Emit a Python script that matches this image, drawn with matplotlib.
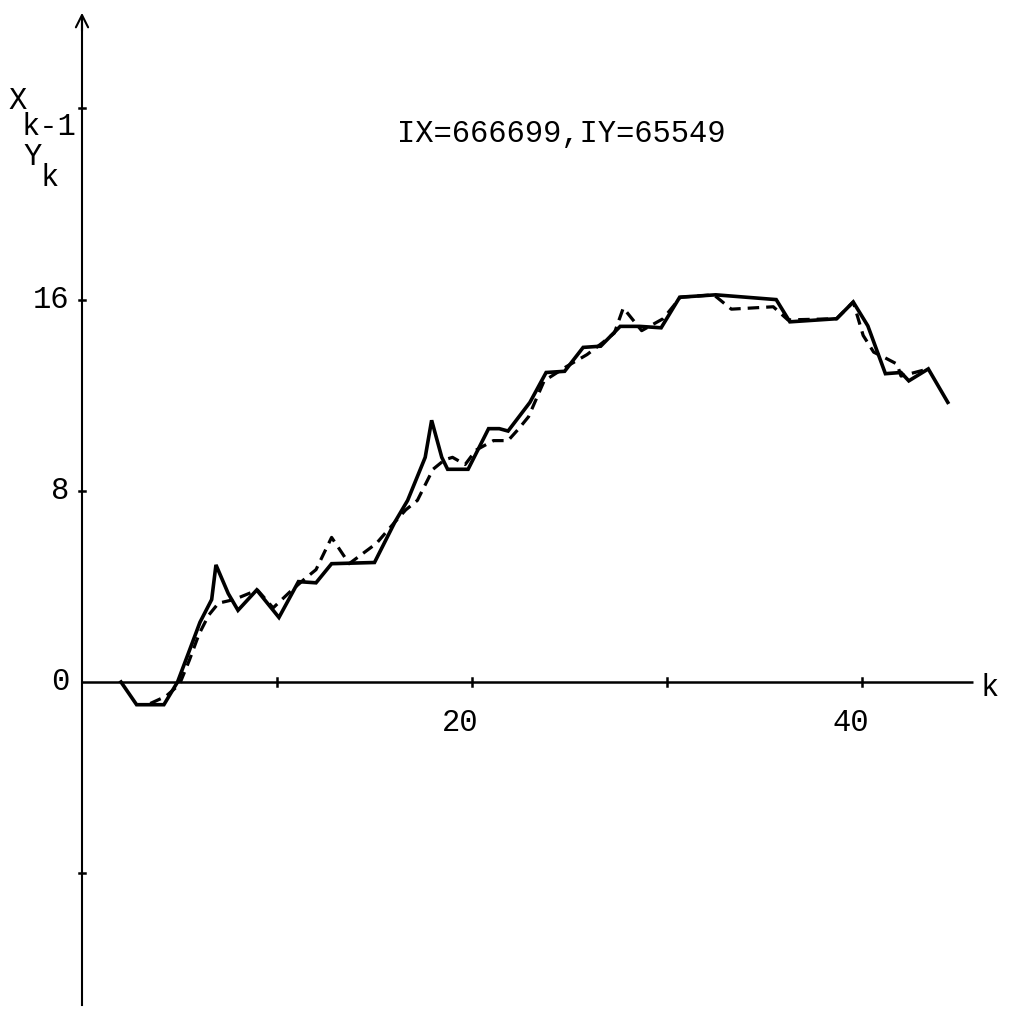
import matplotlib
matplotlib.use("Agg")
import matplotlib.pyplot as plt

# Solid curve: X_{k-1}
k_x = [2.0, 2.8, 4.2, 4.9, 5.5, 6.05, 6.65, 6.87, 7.5, 8.0, 8.96, 10.1, 11.1,
       12.0, 12.8, 15.0, 16.05, 16.7, 17.3, 17.6, 17.93, 18.45, 18.75, 19.8,
       20.85, 21.4, 21.85, 22.97, 23.8, 24.75, 25.7, 26.6, 27.6, 28.6, 29.7,
       30.65, 32.5, 35.6, 36.3, 38.7, 39.55, 40.3, 41.2, 42.0, 42.4, 43.4, 44.4]
x_vals = [0.0, -0.95, -0.95, 0.0, 1.3, 2.5, 3.45, 4.9, 3.7, 3.0, 3.85, 2.7, 4.2,
          4.15, 4.95, 5.0, 6.7, 7.6, 8.8, 9.4, 10.95, 9.4, 8.9, 8.9,
          10.6, 10.6, 10.5, 11.7, 12.95, 13.0, 14.0, 14.05, 14.88, 14.88, 14.82,
          16.1, 16.2, 16.0, 15.07, 15.2, 15.9, 14.9, 12.9, 12.95, 12.6, 13.1, 11.7]

# Dashed curve: Y_k
k_y = [3.5, 4.3, 5.0, 5.5, 6.0, 6.5, 7.0, 7.8, 9.0, 9.8, 10.7, 11.4, 12.0,
       12.8, 13.7, 15.1, 16.0, 16.6, 17.2, 18.0, 18.6, 19.0, 19.65, 20.2,
       21.1, 21.85, 22.4, 22.9, 23.7, 24.85, 25.9, 26.7, 27.3, 27.76, 28.7,
       29.8, 30.7, 32.4, 33.3, 35.45, 36.2, 38.7, 39.55, 40.06, 40.6, 41.1,
       41.8, 42.0, 43.4]
y_vals = [-0.9, -0.6, -0.1, 0.9, 2.0, 2.8, 3.3, 3.45, 3.85, 3.1, 3.8, 4.3, 4.7,
          6.05, 4.95, 5.8, 6.65, 7.2, 7.6, 8.9, 9.3, 9.4, 9.1, 9.7,
          10.1, 10.1, 10.6, 11.1, 12.6, 13.2, 13.7, 14.2, 14.6, 15.65, 14.7,
          15.2, 16.1, 16.2, 15.6, 15.7, 15.15, 15.2, 15.9, 14.5, 13.8, 13.6,
          13.3, 12.8, 13.1]

x_ticks = [10, 20, 30, 40]
x_tick_labels = {20: "20", 40: "40"}
y_ticks = [-8, 8, 16, 24]
y_tick_labels = {0: "0", 8: "8", 16: "16"}
annotation = "IX=666699,IY=65549"

W = H = 1009
fig = plt.figure(figsize=(W / 100, H / 100), dpi=100)
ax = fig.add_axes([0, 0, 1, 1])
ax.set_axis_off()

# pixel layout of the coordinate frame
x0_px, kx_px = 82.0, 19.5
y0_px, uy_px = 682.0, 23.9
ax.set_xlim(-x0_px / kx_px, (W - x0_px) / kx_px)
ax.set_ylim(-(H - y0_px) / uy_px, y0_px / uy_px)

font = dict(family="Liberation Mono", color="black")
fs = 22


def px(xp, yp):
    """Figure pixel position (from top-left) to data coordinates."""
    return ((xp - x0_px) / kx_px, (y0_px - yp) / uy_px)


# axes
ax.plot([0, (973 - x0_px) / kx_px], [0, 0], color="black", lw=1.8,
        solid_capstyle="butt")
y_bot = -(1005 - y0_px) / uy_px
y_top = (y0_px - 10) / uy_px
ax.plot([0, 0], [y_bot, y_top - 0.3], color="black", lw=1.5)
ax.annotate("", xy=(0, y_top), xytext=(0, y_top - 1.0),
            arrowprops=dict(arrowstyle="->", color="black", lw=1.5,
                            mutation_scale=22))

# tick marks
for t in x_ticks:
    ax.plot([t, t], [-0.15, 0.15], color="black", lw=1.8)
for t in y_ticks:
    ax.plot([-0.15, 0.15], [t, t], color="black", lw=1.8)

# tick labels
for t, s in x_tick_labels.items():
    ax.text(t - 0.6, -1.7, s, ha="center", va="center", fontsize=fs, **font)
for t, s in y_tick_labels.items():
    ax.text(-0.65, t, s, ha="right", va="center", fontsize=fs, **font)
ax.text(*px(990, 688), "k", ha="center", va="center", fontsize=fs, **font)

# axis label X_{k-1} / Y_k
ax.text(*px(18, 101), "X", ha="center", va="center", fontsize=fs, **font)
ax.text(*px(49, 127), "k-1", ha="center", va="center", fontsize=fs, **font)
ax.text(*px(33, 157), "Y", ha="center", va="center", fontsize=fs, **font)
ax.text(*px(50, 178), "k", ha="center", va="center", fontsize=fs, **font)

ax.text(*px(561, 134), annotation, ha="center", va="center",
        fontsize=fs, **font)

# curves
ax.plot(k_x, x_vals, color="black", lw=2.6, solid_joinstyle="miter")
ax.plot(k_y, y_vals, color="black", lw=2.3, dashes=(3.6, 2.2))

fig.savefig("out.png", dpi=100, facecolor="white")
